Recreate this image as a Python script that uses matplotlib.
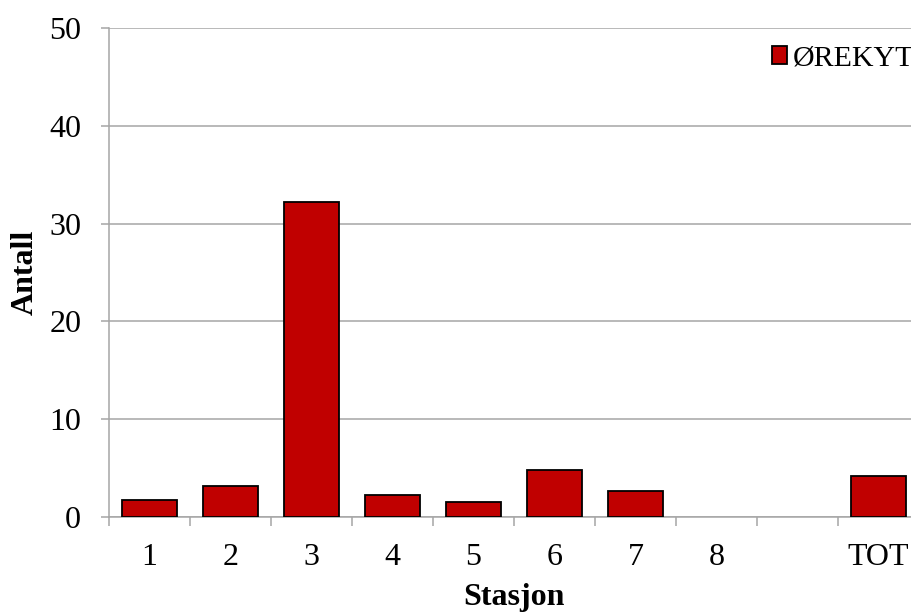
import numpy as np
import matplotlib
matplotlib.use("Agg")
import matplotlib.pyplot as plt
from matplotlib.ticker import FixedLocator, NullFormatter

# ---- data ----
categories = ['1', '2', '3', '4', '5', '6', '7', '8', '', 'TOT']
values = [1.7, 3.2, 32.2, 2.2, 1.5, 4.8, 2.7, 0.0, np.nan, 4.2]
series_name = 'ØREKYT'
y_ticks = [0, 10, 20, 30, 40, 50]
x_label = 'Stasjon'
y_label = 'Antall'

plt.rcParams['font.family'] = ['Liberation Serif', 'DejaVu Serif']
FS = 23
LFS = 21.5
GRID = '#A6A6A6'
BAR = '#C00000'

fig = plt.figure(figsize=(9.12, 6.15), dpi=100)
W, H = 912, 615
left, right, top, bottom = 109, 919, 28, 517
ax = fig.add_axes([left / W, 1 - bottom / H, (right - left) / W, (bottom - top) / H])

x = np.arange(len(categories))
vals = np.array(values, dtype=float)
mask = np.nan_to_num(vals) > 0
ax.bar(x[mask], vals[mask], width=0.68, color=BAR, edgecolor='black',
       linewidth=1.3, label=series_name, zorder=3)

ax.set_xlim(-0.5, len(categories) - 0.5)
ax.set_ylim(0, 50)
ax.set_yticks(y_ticks)
ax.set_yticklabels([str(t) for t in y_ticks])
ax.yaxis.grid(True, color=GRID, linewidth=1.1, zorder=0)
ax.set_axisbelow(True)

ax.set_xticks(x)
ax.set_xticklabels(categories)
ax.xaxis.set_minor_locator(FixedLocator(np.arange(-0.5, len(categories), 1.0)))
ax.xaxis.set_minor_formatter(NullFormatter())
ax.tick_params(axis='x', which='major', length=0, pad=19, labelsize=FS)
ax.tick_params(axis='x', which='minor', length=6.5, width=1.1, color=GRID, direction='out')
ax.tick_params(axis='y', which='major', length=6.0, width=1.1, color=GRID, direction='out',
               pad=14, labelsize=FS)

for s in ['top', 'right']:
    ax.spines[s].set_visible(False)
for s in ['left', 'bottom']:
    ax.spines[s].set_color(GRID)
    ax.spines[s].set_linewidth(1.1)

ax.set_xlabel(x_label, fontsize=FS, fontweight='bold')
ax.set_ylabel(y_label, fontsize=FS, fontweight='bold')
ax.xaxis.label.set(va='center', ha='center')
ax.yaxis.label.set(va='center', ha='center')
ax.xaxis.set_label_coords(0.5, (bottom - 598) / (bottom - top))
ax.yaxis.set_label_coords((25 - left) / (right - left), 0.5)

leg = ax.legend(loc='upper left', bbox_to_anchor=(756 / W, 1 - 30 / H),
                bbox_transform=fig.transFigure, fontsize=LFS, frameon=True,
                fancybox=False, edgecolor='none', facecolor='white', framealpha=1,
                borderaxespad=0, borderpad=0.52, handlelength=0.52, handleheight=0.52,
                handletextpad=0.2)
leg.set_zorder(5)

fig.savefig('out.png', dpi=100)
